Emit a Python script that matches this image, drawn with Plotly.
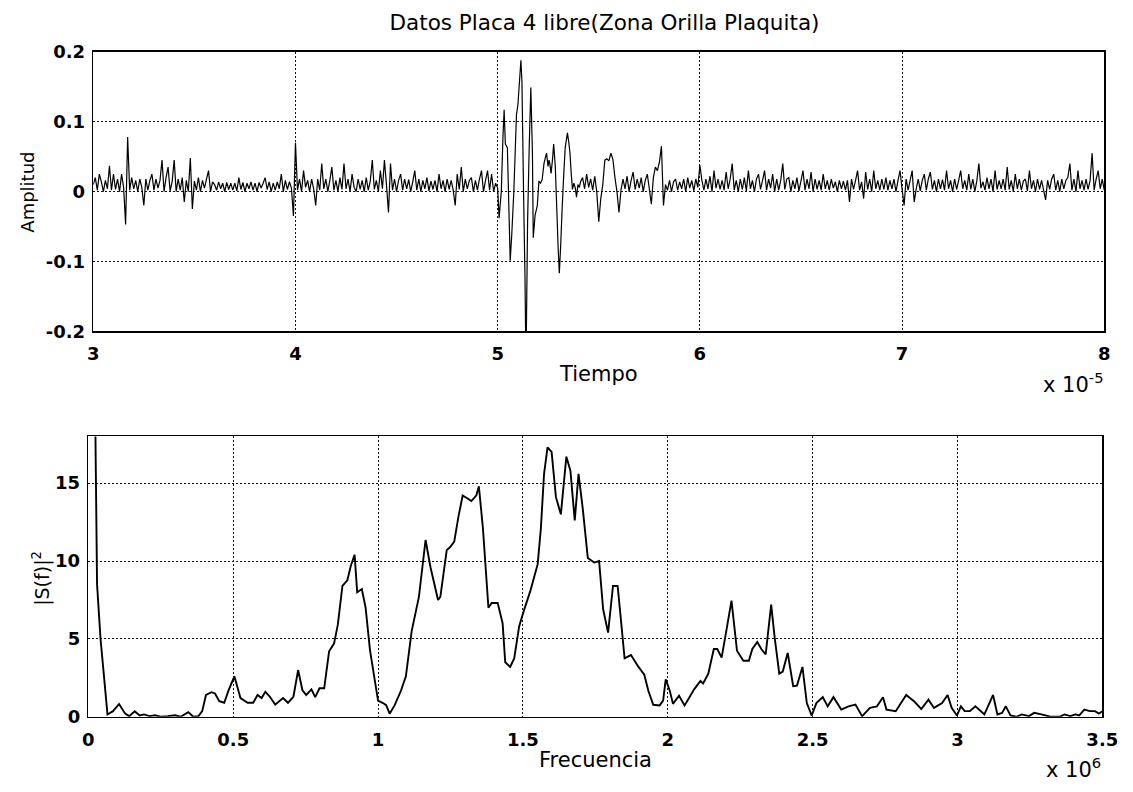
import numpy as np
import plotly.graph_objects as go

# ---------------------------------------------------------------
# Time record (plate 4, free, insert edge zone)
# amplitudes are stored in units of 1e-3
# ---------------------------------------------------------------
SAMPLE_STEP = 1e-7  # s between samples of the uniform parts

pre_start = 3.00e-5
pre_amp = [
    10, 20, 2, 25, 14, 0, 16, 4, 37, 2,
    25, 3, 18, 0, 25, 6, -47, 78, 2, 20,
    4, 16, 0, 18, 6, -20, 18, 2, 16, 25,
    2, 18, 5, 16, 45, 0, 20, 35, 1, 14,
    45, 0, 18, 2, 20, -15, 16, 0, 48, -25,
    15, 2, 20, 0, 16, 5, 18, 30, 0, 14,
    10, 2, 14, 4, 12, 0, 13, 3, 12, 2,
    12, 1, 20, 3, 13, 0, 12, 4, 14, 2,
    12, 0, 13, 5, 12, 20, 3, 14, 0, 12,
    2, 14, 4, 25, 0, 16, 3, 14, 5, -35,
    70, 2, 18, 0, 30, 6, 16, 0, 18, 4,
    -20, 18, 2, 40, 4, 18, 0, 16, 35, 2,
    16, 0, 20, 3, 40, 4, 18, 0, 25, 6,
    0, 18, 3, 16, 0, 20, 2, 15, 45, 3,
    16, 0, 30, 4, 45, 10, -30, 40, 2, 18,
    0, 16, 25, 2, 18, 4, 17, 0, 14, 30,
    2, 18, 0, 16, 4, 20, 1, 15, 3, 16,
    0, 25, 4, 16, 0, 18, 3, 16, 2, -20,
    25, 3, 35, 0, 18, 4, 16, 20, 0, 16,
    2, 18, 30, 0, 16, 30, 2, 25, 0, 12,
]

# echo burst, irregular vertices (time in units of 1e-5 s)
burst_time = [
    5.000, 5.007, 5.018, 5.026, 5.032, 5.038, 5.048, 5.062, 5.070, 5.080,
    5.093, 5.100, 5.115, 5.120, 5.128, 5.135, 5.140, 5.148, 5.156, 5.164,
    5.172, 5.176, 5.185, 5.196, 5.204, 5.212, 5.220, 5.229, 5.237, 5.242,
    5.249, 5.254, 5.258, 5.264, 5.271, 5.277, 5.285, 5.293, 5.299, 5.305,
    5.312, 5.318, 5.326, 5.334, 5.345, 5.352, 5.358, 5.364, 5.370, 5.377,
    5.384, 5.390, 5.397, 5.404,
]
burst_amp = [
    5, -38, 0, 77, 117, 68, 63, -99, -60, 0,
    110, 124, 188, 158, 0, -120, -250, -43, 63, 149,
    54, -66, -34, -20, 15, 12, 17, 40, 50, 55,
    36, 45, 40, 26, 45, 68, 36, -30, -80, -117,
    -75, -30, 20, 63, 84, 70, 54, 25, 3, 12,
    5, -8, 10, 6,
]

post_start = 5.41e-5
post_amp = [
    14, 20, 4, 25, 6, 18, 2, 22, 0, -43,
    -10, 10, 45, 47, 44, 55, 46, 20, 0, -30,
    2, 18, 4, 22, 0, 16, 28, 3, 18, 5,
    20, 0, 16, 25, 4, -18, 20, 35, 30, 42,
    65, -20, 10, 2, 16, 0, 14, 18, 2, 14,
    4, 18, 0, 20, 5, 16, 1, 18, 6, 38,
    16, 2, 18, 4, 22, 0, 30, 5, 18, 3,
    16, 2, 28, 4, 18, 40, 2, 16, 0, 18,
    3, 20, 1, 30, 4, 16, 0, 18, 25, 3,
    16, 30, 2, 18, 5, 25, 0, 18, 2, 16,
    40, 3, 18, 20, 0, 16, 4, 20, 1, 15,
    30, 2, 18, 4, 28, 0, 18, 3, 16, 2,
    25, 4, 16, 2, 18, 5, 14, 0, 16, 4,
    15, 2, 16, -15, 18, 3, 16, 30, 2, 14,
    -10, 28, 3, 18, 0, 30, 4, 16, 2, 18,
    3, 20, 2, 16, 4, 18, 0, 16, 30, 4,
    -20, 18, 2, 16, 30, -15, 4, 18, 1, 16,
    25, 2, 18, 28, 3, 16, 0, 18, 4, 17,
    2, 30, 4, 16, 0, 18, 3, 16, 30, 4,
    16, 2, 25, 3, 18, 0, 16, 40, 5, 14,
    2, 20, 4, 18, 0, 30, 3, 16, 4, 18,
    2, 35, 3, 16, 0, 25, 4, 18, 2, 15,
    18, 1, 30, 4, 16, 0, 18, 3, 16, 2,
    -12, 16, 3, 18, 25, 2, 16, 0, 18, 4,
    16, 20, 40, 2, 18, 0, 30, 4, 16, 2,
    18, 3, 16, 55, 2, 18, 30, 4, 18, 2,
]

# ---------------------------------------------------------------
# Power spectrum |S(f)|^2, frequency in MHz
# ---------------------------------------------------------------
freq_mhz = [
    0.000, 0.030, 0.042, 0.066, 0.085, 0.106, 0.127, 0.141, 0.160, 0.177,
    0.192, 0.211, 0.230, 0.249, 0.274, 0.299, 0.318, 0.345, 0.362, 0.380,
    0.393, 0.406, 0.425, 0.437, 0.452, 0.469, 0.484, 0.504, 0.525, 0.550,
    0.569, 0.584, 0.598, 0.611, 0.626, 0.645, 0.672, 0.689, 0.708, 0.724,
    0.739, 0.752, 0.770, 0.783, 0.798, 0.814, 0.831, 0.848, 0.861, 0.877,
    0.894, 0.906, 0.919, 0.928, 0.944, 0.957, 0.972, 0.989, 1.000, 1.017,
    1.028, 1.040, 1.057, 1.079, 1.096, 1.116, 1.141, 1.164, 1.181, 1.207,
    1.215, 1.237, 1.249, 1.263, 1.277, 1.292, 1.305, 1.322, 1.339, 1.348,
    1.362, 1.381, 1.392, 1.413, 1.430, 1.439, 1.456, 1.470, 1.487, 1.503,
    1.526, 1.551, 1.562, 1.573, 1.585, 1.599, 1.614, 1.631, 1.650, 1.664,
    1.679, 1.692, 1.707, 1.724, 1.746, 1.763, 1.777, 1.794, 1.811, 1.827,
    1.837, 1.851, 1.873, 1.899, 1.919, 1.933, 1.950, 1.972, 1.984, 1.993,
    2.007, 2.018, 2.039, 2.058, 2.075, 2.091, 2.113, 2.122, 2.140, 2.159,
    2.171, 2.186, 2.202, 2.220, 2.239, 2.261, 2.280, 2.292, 2.309, 2.323,
    2.338, 2.357, 2.369, 2.385, 2.397, 2.414, 2.433, 2.446, 2.465, 2.480,
    2.497, 2.513, 2.535, 2.552, 2.572, 2.599, 2.624, 2.648, 2.671, 2.698,
    2.722, 2.743, 2.755, 2.787, 2.823, 2.850, 2.875, 2.900, 2.919, 2.947,
    2.966, 2.980, 2.998, 3.012, 3.025, 3.043, 3.062, 3.093, 3.123, 3.138,
    3.154, 3.167, 3.183, 3.204, 3.222, 3.247, 3.265, 3.290, 3.321, 3.352,
    3.370, 3.389, 3.407, 3.420, 3.438, 3.457, 3.475, 3.488, 3.500,
]
power = [
    60.0, 8.5, 5.0, 0.15, 0.36, 0.82, 0.20, 0.04, 0.36, 0.08,
    0.15, 0.04, 0.10, 0.00, 0.04, 0.10, 0.00, 0.30, 0.00, 0.04,
    0.36, 1.40, 1.58, 1.50, 1.00, 0.90, 1.70, 2.60, 1.20, 0.90,
    0.90, 1.40, 1.20, 1.60, 1.30, 0.78, 1.20, 0.90, 1.30, 3.00,
    1.70, 1.40, 1.76, 1.26, 1.83, 1.83, 4.20, 4.70, 5.90, 8.40,
    8.76, 9.70, 10.40, 8.00, 8.20, 7.00, 4.30, 2.30, 1.04, 0.88,
    0.75, 0.20, 0.73, 1.67, 2.60, 5.50, 7.70, 11.35, 9.60, 7.50,
    7.70, 10.70, 10.90, 11.25, 12.80, 14.20, 14.06, 13.85, 14.20, 14.80,
    12.10, 7.00, 7.30, 7.30, 6.00, 3.50, 3.20, 3.75, 5.80, 6.80,
    8.10, 9.80, 12.10, 15.60, 17.30, 17.00, 14.10, 13.00, 16.70, 15.80,
    12.60, 15.60, 13.30, 10.20, 9.90, 10.00, 6.90, 5.40, 8.40, 8.40,
    6.50, 3.75, 3.96, 3.20, 2.70, 1.67, 0.77, 0.73, 1.04, 2.40,
    1.67, 0.83, 1.35, 0.73, 1.25, 1.76, 2.30, 2.14, 2.77, 4.35,
    4.35, 3.80, 5.50, 7.46, 4.24, 3.60, 3.60, 4.35, 4.80, 4.35,
    4.00, 7.20, 5.10, 2.77, 2.90, 4.10, 1.97, 2.00, 3.20, 0.88,
    0.08, 0.88, 1.26, 0.67, 1.26, 0.46, 0.67, 0.78, 0.04, 0.57,
    0.67, 1.26, 0.46, 0.36, 1.40, 1.00, 0.50, 1.10, 0.57, 0.88,
    1.40, 0.57, 0.08, 0.67, 0.36, 0.36, 0.67, 0.15, 1.40, 0.15,
    0.25, 0.67, 0.08, 0.00, 0.15, 0.04, 0.25, 0.15, 0.00, 0.00,
    0.15, 0.04, 0.15, 0.08, 0.46, 0.36, 0.36, 0.20, 0.36,
]

time_ticks = [3, 4, 5, 6, 7, 8]             # x 1e-5 s
amp_ticks = [-0.2, -0.1, 0, 0.1, 0.2]
freq_ticks = [0, 0.5, 1, 1.5, 2, 2.5, 3, 3.5]  # x 1e6 Hz
power_ticks = [0, 5, 10, 15]

# ---------------------------------------------------------------
# assemble the sampled record
# ---------------------------------------------------------------
t_pre = pre_start + np.arange(len(pre_amp)) * SAMPLE_STEP
t_post = post_start + np.arange(len(post_amp)) * SAMPLE_STEP
t_burst = np.array(burst_time) * 1e-5
time_s = np.concatenate([t_pre, t_burst, t_post])
amplitude = np.concatenate([pre_amp, burst_amp, post_amp]) * 1e-3

freq_hz = np.array(freq_mhz) * 1e6

W, H = 1133, 792
FONT = "DejaVu Sans"
INK = "black"


def px_x(p):
    return p / W


def px_y(p):
    return 1 - p / H


fig = go.Figure()
fig.add_trace(go.Scatter(
    x=time_s, y=amplitude, mode="lines",
    line=dict(color=INK, width=1.2, simplify=False),
    xaxis="x", yaxis="y", showlegend=False, hoverinfo="skip",
))
fig.add_trace(go.Scatter(
    x=freq_hz, y=power, mode="lines",
    line=dict(color=INK, width=1.9, simplify=False),
    xaxis="x2", yaxis="y2", showlegend=False, hoverinfo="skip",
))

axis_common = dict(
    showline=True, mirror=True, linecolor=INK, linewidth=1.6,
    showgrid=True, gridcolor="#111111", gridwidth=1, griddash="2px,2px",
    zeroline=False, ticks="", fixedrange=True,
    tickfont=dict(family=FONT, size=18, color=INK, weight="bold"),
)

fig.update_layout(
    width=W, height=H,
    margin=dict(l=0, r=0, t=0, b=0),
    paper_bgcolor="white", plot_bgcolor="white",
    title=dict(
        text="Datos Placa 4 libre(Zona Orilla Plaquita)",
        font=dict(family=FONT, size=21.5, color=INK),
        x=px_x(604.5), xanchor="center", y=px_y(22), yanchor="middle",
    ),
    xaxis=dict(
        axis_common,
        domain=[px_x(89), px_x(1120)], anchor="y",
        range=[3e-5, 8e-5],
        tickvals=[v * 1e-5 for v in time_ticks],
        ticktext=[str(v) for v in time_ticks],
        ticklabelstandoff=6,
    ),
    yaxis=dict(
        axis_common,
        domain=[px_y(329), px_y(42)], anchor="x",
        range=[-0.2, 0.2],
        tickvals=amp_ticks,
        ticktext=["-0.2", "-0.1", "0", "0.1", "0.2"],
        ticklabelstandoff=3,
    ),
    xaxis2=dict(
        axis_common,
        domain=[px_x(84), px_x(1118)], anchor="y2",
        range=[0, 3.5e6],
        tickvals=[v * 1e6 for v in freq_ticks],
        ticktext=["0", "0.5", "1", "1.5", "2", "2.5", "3", "3.5"],
        ticklabelstandoff=6,
    ),
    yaxis2=dict(
        axis_common,
        domain=[px_y(725), px_y(437)], anchor="x2",
        range=[0, 18],
        tickvals=power_ticks,
        ticktext=[str(v) for v in power_ticks],
        ticklabelstandoff=3,
    ),
)

label_font = dict(family=FONT, size=21, color=INK)
fig.add_annotation(text="Tiempo", x=px_x(604.5), y=px_y(373),
                   xref="paper", yref="paper", showarrow=False,
                   xanchor="center", yanchor="middle", font=label_font)
fig.add_annotation(text="x 10<sup>-5</sup>", x=px_x(1121), y=px_y(382),
                   xref="paper", yref="paper", showarrow=False,
                   xanchor="right", yanchor="middle", font=label_font)
fig.add_annotation(text="Frecuencia", x=px_x(601), y=px_y(769),
                   xref="paper", yref="paper", showarrow=False,
                   xanchor="center", yanchor="middle", font=label_font)
fig.add_annotation(text="x 10<sup>6</sup>", x=px_x(1119), y=px_y(778),
                   xref="paper", yref="paper", showarrow=False,
                   xanchor="right", yanchor="middle", font=label_font)
fig.add_annotation(text="Amplitud", x=px_x(21), y=px_y(186),
                   xref="paper", yref="paper", showarrow=False, textangle=-90,
                   xanchor="center", yanchor="middle",
                   font=dict(family=FONT, size=18, color=INK))
fig.add_annotation(text="|S(f)|<sup>2</sup>", x=px_x(36), y=px_y(583),
                   xref="paper", yref="paper", showarrow=False, textangle=-90,
                   xanchor="center", yanchor="middle",
                   font=dict(family=FONT, size=19, color=INK))

fig.write_html("out.html", config={"displayModeBar": False, "staticPlot": True})
